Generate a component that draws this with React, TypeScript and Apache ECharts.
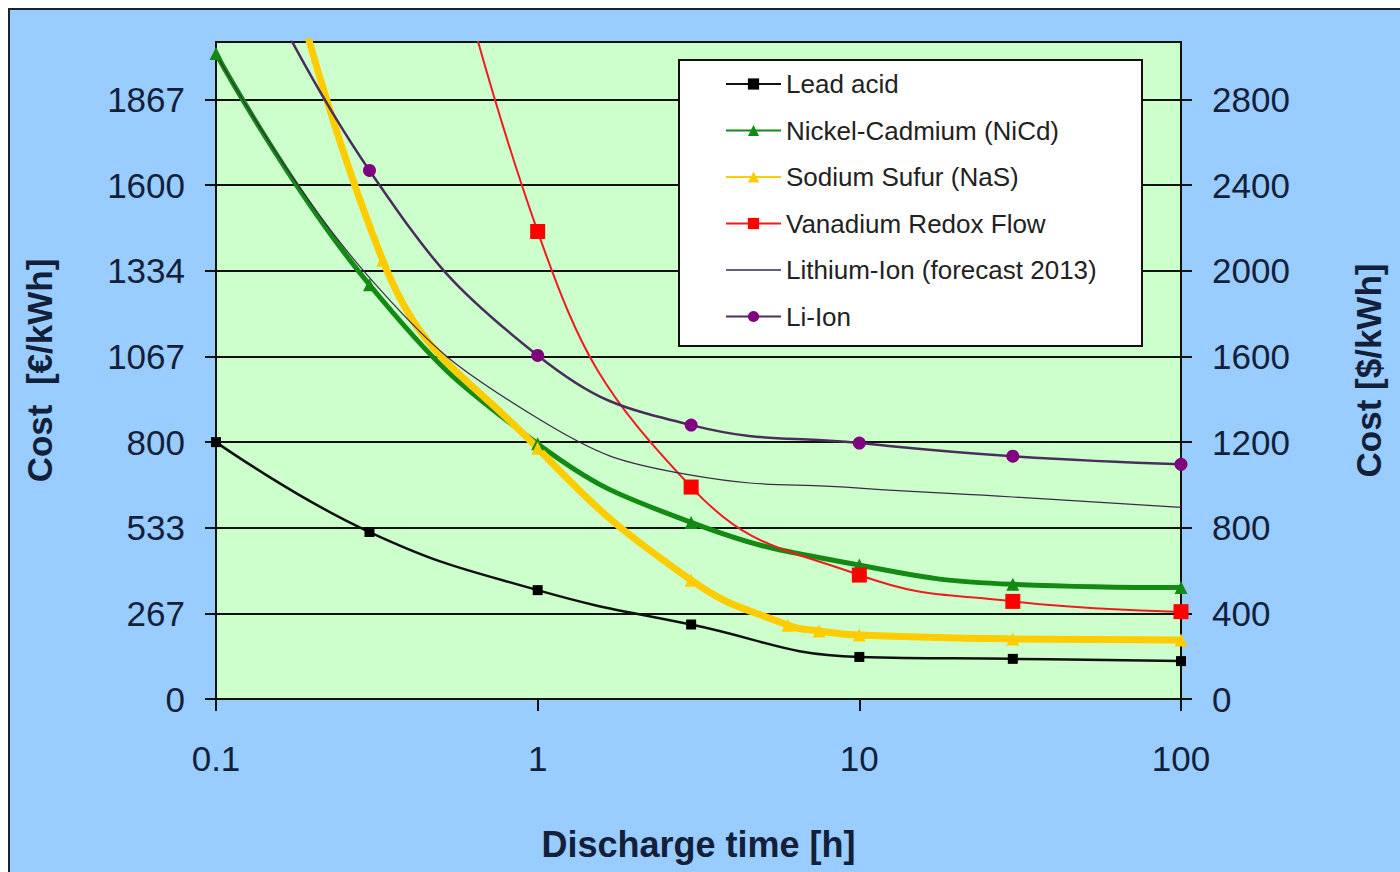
import React, { useEffect, useRef } from "react";
import * as echarts from "echarts";

// ---- data (Cost in €/kWh, discharge time in h) ----
const leadX = [0.1, 0.3, 1, 3, 10, 30, 100];
const leadY = [800, 520, 339, 232, 131, 125, 118];

const nicdX = [0.1, 0.3, 1, 3, 10, 30, 100];
const nicdY = [2010, 1290, 795, 550, 417, 357, 347];

const nasX = [0.1, 0.33, 1, 3, 6, 7.5, 10, 30, 100];
const nasY = [3300, 1366, 781, 370, 230, 212, 199, 187, 184];

const vrfX = [0.3, 1, 3, 10, 30, 100];
const vrfY = [3500, 1456, 660, 386, 304, 272];

const liFcX = [0.1, 0.3, 1, 3, 10, 30, 100];
const liFcY = [2010, 1312, 874, 697, 657, 629, 597];

const liX = [0.1, 0.3, 1, 3, 10, 30, 100];
const liY = [2530, 1646, 1070, 853, 797, 756, 731];

const seriesNames = [
  "Lead acid",
  "Nickel-Cadmium (NiCd)",
  "Sodium Sufur (NaS)",
  "Vanadium Redox Flow",
  "Lithium-Ion (forecast 2013)",
  "Li-Ion",
];

const leftTickValues = [0, 800 / 3, 1600 / 3, 800, 3200 / 3, 4000 / 3, 1600, 5600 / 3];
const leftTickLabels = ["0", "267", "533", "800", "1067", "1334", "1600", "1867"];
const rightTickValues = [0, 400, 800, 1200, 1600, 2000, 2400, 2800];
const xTickValues = [0.1, 1, 10, 100];
const xTickLabels = ["0.1", "1", "10", "100"];

const EUR_TO_USD = 1.5;
const LEFT_MAX = 2046;

const pairs = (xs: number[], ys: number[]) => xs.map((x, i) => [x, ys[i]]);

const TEXT = "#13203a";
const FONT = "'Liberation Sans', Arial, sans-serif";

export default function App() {
  const ref = useRef<HTMLDivElement>(null);

  useEffect(() => {
    if (!ref.current) return;
    const chart = echarts.init(ref.current, null, { renderer: "svg" });

    const mkSeries = (
      name: string,
      xs: number[],
      ys: number[],
      color: string,
      lineColor: string,
      width: number,
      symbol: string,
      size: number
    ) => ({
      name,
      type: "line",
      data: pairs(xs, ys),
      smooth: 0.45,
      clip: true,
      symbol,
      symbolSize: size,
      showSymbol: symbol !== "none",
      itemStyle: { color, borderWidth: 0 },
      lineStyle: { color: lineColor, width },
      emphasis: { disabled: true },
    });

    const legendData = seriesNames.map((n, i) =>
      i === 4 ? { name: n, icon: "path://M0,0 H55 V1.3 H0 Z", itemStyle: { color: "#3C2A4A" } } : { name: n }
    );

    chart.setOption({
      animation: false,
      backgroundColor: "transparent",
      textStyle: { fontFamily: FONT },
      grid: {
        left: 216,
        right: 219,
        top: 42,
        bottom: 173,
        show: true,
        backgroundColor: "#CCFFCC",
        borderColor: "#111111",
        borderWidth: 2,
      },
      graphic: [
        {
          type: "rect",
          shape: { x: 679, y: 60, width: 463, height: 286 },
          style: { fill: "#ffffff", stroke: "#111111", lineWidth: 2 },
          z: 3,
        },
      ],
      legend: {
        data: legendData,
        orient: "vertical",
        left: 679,
        top: 60,
        padding: [11, 10, 10, 46],
        itemWidth: 55,
        itemHeight: 14,
        itemGap: 20.5,
        textStyle: { fontSize: 26, color: "#222222", fontFamily: FONT, lineHeight: 26 },
        z: 5,
      },
      xAxis: {
        type: "log",
        logBase: 10,
        min: 0.1,
        max: 100,
        name: "Discharge time [h]",
        nameLocation: "middle",
        nameGap: 127,
        nameTextStyle: { fontSize: 36, fontWeight: "bold", color: TEXT, fontFamily: FONT },
        axisLine: { show: true, lineStyle: { color: "#111111", width: 2 } },
        axisTick: { show: true, length: 12, lineStyle: { color: "#111111", width: 2 }, customValues: xTickValues },
        minorTick: { show: false },
        splitLine: { show: false },
        axisLabel: {
          customValues: xTickValues,
          margin: 42,
          fontSize: 35,
          color: TEXT,
          fontFamily: FONT,
          formatter: (v: number) => xTickLabels[Math.round(Math.log10(v)) + 1] ?? String(v),
        },
      },
      yAxis: [
        {
          type: "value",
          position: "left",
          min: 0,
          max: LEFT_MAX,
          interval: 800 / 3,
          name: "Cost  [€/kWh]",
          nameLocation: "middle",
          nameGap: 159,
          nameTextStyle: { fontSize: 35, fontWeight: "bold", color: TEXT, fontFamily: FONT },
          axisLine: { show: true, lineStyle: { color: "#111111", width: 2 } },
          axisTick: { show: true, length: 11, lineStyle: { color: "#111111", width: 2 }, customValues: leftTickValues },
          splitLine: { show: true, lineStyle: { color: "#111111", width: 2 } },
          axisLabel: {
            customValues: leftTickValues,
            margin: 31,
            fontSize: 35,
            color: TEXT,
            fontFamily: FONT,
            formatter: (v: number) => leftTickLabels[Math.round(v / (800 / 3))] ?? "",
          },
        },
        {
          type: "value",
          position: "right",
          min: 0,
          max: LEFT_MAX * EUR_TO_USD,
          interval: 400,
          name: "Cost [$/kWh]",
          nameLocation: "middle",
          nameGap: 170,
          nameTextStyle: { fontSize: 35, fontWeight: "bold", color: TEXT, fontFamily: FONT },
          axisLine: { show: true, lineStyle: { color: "#111111", width: 2 } },
          axisTick: { show: true, length: 11, lineStyle: { color: "#111111", width: 2 }, customValues: rightTickValues },
          splitLine: { show: false },
          axisLabel: {
            customValues: rightTickValues,
            margin: 31,
            fontSize: 35,
            color: TEXT,
            fontFamily: FONT,
            formatter: (v: number) => String(Math.round(v)),
          },
        },
      ],
      series: [
        mkSeries(seriesNames[0], leadX, leadY, "#000000", "#111111", 2.5, "rect", 10),
        mkSeries(seriesNames[1], nicdX, nicdY, "#138A13", "#138A13", 5, "triangle", 13),
        mkSeries(seriesNames[2], nasX, nasY, "#FFCC00", "#FFCC00", 7, "triangle", 13),
        mkSeries(seriesNames[3], vrfX, vrfY, "#FF0000", "#EE1C1C", 2, "rect", 15),
        mkSeries(seriesNames[4], liFcX, liFcY, "#3C2A4A", "#3C2A4A", 1.2, "none", 0),
        mkSeries(seriesNames[5], liX, liY, "#800080", "#4A2E5A", 2.5, "circle", 13),
      ],
    });

    return () => chart.dispose();
  }, []);

  return (
    <div style={{ position: "fixed", left: 0, top: 0, width: 1400, height: 872, background: "#ffffff", overflow: "hidden" }}>
      <div
        style={{
          position: "absolute",
          left: 8,
          top: 8,
          width: 1392,
          height: 864,
          background: "#99CCFF",
          borderLeft: "2px solid #1b2333",
          borderTop: "2px solid #1b2333",
          boxSizing: "border-box",
        }}
      />
      <div ref={ref} style={{ position: "absolute", left: 0, top: 0, width: 1400, height: 872 }} />
    </div>
  );
}
